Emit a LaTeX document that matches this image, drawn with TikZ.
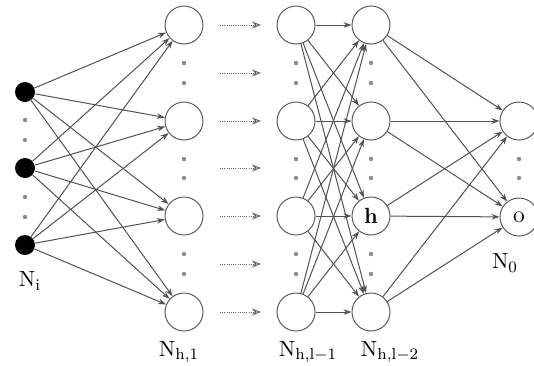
\documentclass[tikz,border=0pt]{standalone}
\usepackage{amsmath}
\usepackage{amssymb}
\usetikzlibrary{arrows.meta}

\begin{document}
\begin{tikzpicture}[x=0.5pt, y=-0.5pt,
        neuron/.style={circle, draw=black!65, line width=0.5pt, minimum size=19pt, inner sep=0pt, font=\fontsize{11}{13}\selectfont},
        inneuron/.style={circle, fill=black, minimum size=10pt, inner sep=0pt},
        vdot/.style={circle, fill=black!45, minimum size=2.2pt, inner sep=0pt},
        conn/.style={draw=black!68, line width=0.5pt, -{Stealth[length=4pt, width=2.8pt]}},
        skiparrow/.style={draw=black!60, dash pattern=on 0.5pt off 0.6pt, line width=0.5pt, -{Stealth[length=4.5pt, width=3.5pt, open, line width=0.5pt]}},
        lbl/.style={font=\fontsize{11}{13}\selectfont}]
    \useasboundingbox (0,0) rectangle (534,365);
    % input layer
    \foreach \i/\y in {1/92, 2/168, 3/245}
        \node[inneuron] (in\i) at (25,\y) {};
    \foreach \y in {120,140,197,217}
        \node[vdot] (indot\y) at (25,\y) {};
    % hidden layers
    \foreach \i/\y in {1/25, 2/121, 3/216, 4/312} {
        \node[neuron] (ha\i) at (184,\y) {};
        \node[neuron] (hb\i) at (296,\y) {};
    }
    \node[neuron] (hc1) at (371,25) {};
    \node[neuron] (hc2) at (371,121) {};
    \node[neuron] (hc3) at (371,216) {\textbf{h}};
    \node[neuron] (hc4) at (371,312) {};
    \foreach \x in {184,296,371}
        \foreach \y in {63,83,159,178,254,274}
            \node[vdot] (hdot\x-\y) at (\x,\y) {};
    % output layer
    \node[neuron] (o1) at (519,121) {};
    \node[neuron] (o2) at (519,217) {\large o};
    \foreach \y in {159,178}
        \node[vdot] (odot\y) at (519,\y) {};
    % skipped layers
    \foreach \i/\y in {1/25, 2/73, 3/121, 4/168, 5/216, 6/264, 7/312} {
        \coordinate (sa\i) at (220,\y);
        \coordinate (sb\i) at (261,\y);
        \draw[skiparrow] (sa\i) -- (sb\i);
    }
    % connections
    \foreach \i in {1,2,3}
        \foreach \j in {1,...,4}
            \draw[conn] (in\i) -- (ha\j);
    \foreach \i in {1,...,4}
        \foreach \j in {1,...,4}
            \draw[conn] (hb\i) -- (hc\j);
    \foreach \i in {1,...,4}
        \foreach \j in {1,2}
            \draw[conn] (hc\i) -- (o\j);
    % labels
    \node[lbl] (lin) at (30,281) {$\mathrm{N_i}$};
    \node[lbl] (lha) at (179,352) {$\mathrm{N_{h,1}}$};
    \node[lbl] (lhb) at (308,352) {$\mathrm{N_{h,l-1}}$};
    \node[lbl] (lhc) at (390,352) {$\mathrm{N_{h,l-2}}$};
    \node[lbl] (lout) at (505,263) {$\mathrm{N_0}$};
\end{tikzpicture}
\end{document}
